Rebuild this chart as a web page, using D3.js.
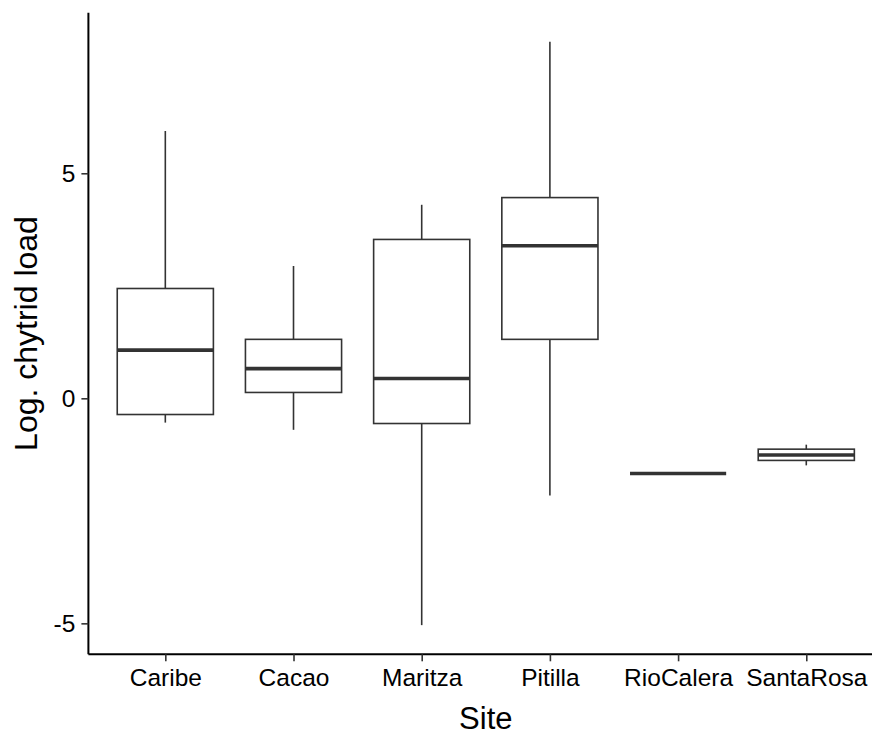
<!DOCTYPE html>
<html>
<head>
<meta charset="utf-8">
<script src="https://cdn.jsdelivr.net/npm/d3@7"></script>
<style>
  html, body { margin: 0; padding: 0; background: #ffffff; }
  svg { display: block; }
  text { font-family: "Liberation Sans", Arial, sans-serif; }
</style>
</head>
<body>
<div id="chart"></div>
<script>
// Sites along the x axis
const sites = ["Caribe", "Cacao", "Maritza", "Pitilla", "RioCalera", "SantaRosa"];

// Five-number summaries per site (log chytrid load)
const whiskerLow  = [-0.54, -0.70, -5.04, -2.16, -1.67, -1.49];
const q1          = [-0.36,  0.13, -0.56,  1.31, -1.67, -1.38];
const median      = [ 1.07,  0.66,  0.44,  3.39, -1.67, -1.26];
const q3          = [ 2.44,  1.31,  3.53,  4.46, -1.67, -1.13];
const whiskerHigh = [ 5.94,  2.94,  4.30,  7.92, -1.67, -1.03];

// Axis ticks and titles
const yTicks = [-5, 0, 5];
const xTitle = "Site";
const yTitle = "Log. chytrid load";

const W = 872, H = 736;
const panel = { left: 88.4, right: 883.2, top: 12.7, bottom: 654.3 };

const boxes = sites.map((s, i) => ({
  site: s, idx: i + 1,
  lo: whiskerLow[i], q1: q1[i], med: median[i], q3: q3[i], hi: whiskerHigh[i]
}));

const svg = d3.select("#chart").append("svg")
  .attr("width", W).attr("height", H);

// Discrete positions 1..n with 0.6 padding on each side
const x = d3.scaleLinear()
  .domain([0.4, sites.length + 0.6])
  .range([panel.left, panel.right]);

const yMin = d3.min(whiskerLow), yMax = d3.max(whiskerHigh);
const pad = (yMax - yMin) * 0.05;
const y = d3.scaleLinear()
  .domain([yMin - pad, yMax + pad])
  .range([panel.bottom, panel.top]);

const boxW = (x(2) - x(1)) * 0.75;
const ink = "#333333";

const g = svg.append("g");

const bx = g.selectAll("g.box").data(boxes).join("g").attr("class", "box");

// whiskers
bx.append("line")
  .attr("x1", d => x(d.idx)).attr("x2", d => x(d.idx))
  .attr("y1", d => y(d.q3)).attr("y2", d => y(d.hi))
  .attr("stroke", ink).attr("stroke-width", 1.6);
bx.append("line")
  .attr("x1", d => x(d.idx)).attr("x2", d => x(d.idx))
  .attr("y1", d => y(d.q1)).attr("y2", d => y(d.lo))
  .attr("stroke", ink).attr("stroke-width", 1.6);

// interquartile box
bx.append("rect")
  .attr("x", d => x(d.idx) - boxW / 2)
  .attr("width", boxW)
  .attr("y", d => y(d.q3))
  .attr("height", d => Math.max(0, y(d.q1) - y(d.q3)))
  .attr("fill", "#ffffff")
  .attr("stroke", ink).attr("stroke-width", 1.6);

// median
bx.append("line")
  .attr("x1", d => x(d.idx) - boxW / 2).attr("x2", d => x(d.idx) + boxW / 2)
  .attr("y1", d => y(d.med)).attr("y2", d => y(d.med))
  .attr("stroke", ink).attr("stroke-width", 3.6)
  .attr("stroke-linecap", "butt");

// Axes
const xAxis = d3.axisBottom(x)
  .tickValues(d3.range(1, sites.length + 1))
  .tickFormat(d => sites[d - 1])
  .tickSize(7).tickPadding(7);

const yAxis = d3.axisLeft(y)
  .tickValues(yTicks)
  .tickFormat(d => d < 0 ? "-" + Math.abs(d) : String(d))
  .tickSize(7).tickPadding(6);

const gx = svg.append("g")
  .attr("transform", `translate(0,${panel.bottom})`)
  .call(xAxis);
gx.select(".domain").attr("d", `M${panel.left},0H${panel.right}`)
  .attr("stroke", "#000").attr("stroke-width", 2);
gx.selectAll(".tick line").attr("stroke", "#333").attr("stroke-width", 1.6);
gx.selectAll(".tick text").attr("fill", "#000")
  .style("font-size", "24.5px").style("font-family", "Liberation Sans, Arial, sans-serif");

const gy = svg.append("g")
  .attr("transform", `translate(${panel.left},0)`)
  .call(yAxis);
gy.select(".domain").attr("d", `M0,${panel.bottom}V${panel.top}`)
  .attr("stroke", "#000").attr("stroke-width", 2);
gy.selectAll(".tick line").attr("stroke", "#333").attr("stroke-width", 1.6);
gy.selectAll(".tick text").attr("fill", "#000")
  .style("font-size", "24.5px").style("font-family", "Liberation Sans, Arial, sans-serif");

// Axis titles
svg.append("text")
  .attr("x", (panel.left + panel.right) / 2)
  .attr("y", 729)
  .attr("text-anchor", "middle")
  .style("font-size", "31px")
  .attr("fill", "#000")
  .text(xTitle);

svg.append("text")
  .attr("transform", `translate(37,${(panel.top + panel.bottom) / 2}) rotate(-90)`)
  .attr("text-anchor", "middle")
  .style("font-size", "32px")
  .attr("fill", "#000")
  .text(yTitle);
</script>
</body>
</html>
